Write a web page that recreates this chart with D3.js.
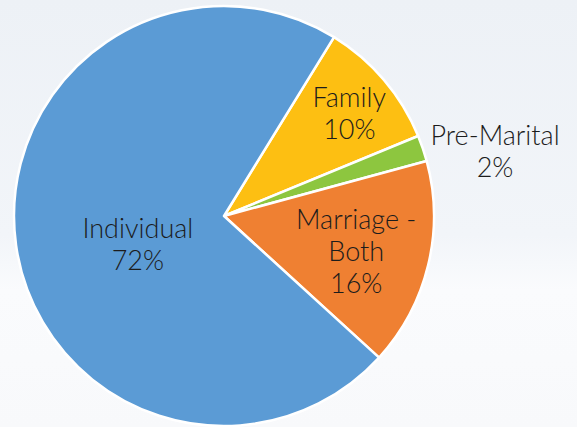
<!DOCTYPE html>
<html>
<head>
<meta charset="utf-8">
<script src="https://cdn.jsdelivr.net/npm/d3@7"></script>
<style>
  html, body { margin: 0; padding: 0; overflow: hidden; }
  body { width: 577px; height: 427px; }
  .label { font-family: Lato, "Open Sans", sans-serif; font-weight: 300; font-size: 27px; fill: #1c1c1c; }
</style>
</head>
<body>
<div id="chart"></div>
<script>
// Data
const categories = ["Family", "Pre-Marital", "Marriage - Both", "Individual"];
const values = [10, 2, 16, 72];
const colors = ["#fdbf12", "#8dc63f", "#ef8032", "#5b9bd5"];

const width = 577, height = 427;
const cx = 224, cy = 216, radius = 210;

const svg = d3.select("#chart")
    .append("svg")
    .attr("width", width)
    .attr("height", height);

// faded background
const defs = svg.append("defs");
const grad = defs.append("linearGradient")
    .attr("id", "bg")
    .attr("x1", 0).attr("y1", 0).attr("x2", 0).attr("y2", 1);
grad.append("stop").attr("offset", "0%").attr("stop-color", "#edf1f6");
grad.append("stop").attr("offset", "55%").attr("stop-color", "#f2f5f9");
grad.append("stop").attr("offset", "68%").attr("stop-color", "#fafbfd");
grad.append("stop").attr("offset", "100%").attr("stop-color", "#f8f9fb");
svg.append("rect").attr("width", width).attr("height", height).attr("fill", "url(#bg)");

const data = categories.map((c, i) => ({ name: c, value: values[i], color: colors[i] }));

// Family begins at ~31.6 deg clockwise from 12 o'clock
const startAngle = 31.6 * Math.PI / 180;
const pie = d3.pie()
    .value(d => d.value)
    .sort(null)
    .startAngle(startAngle)
    .endAngle(startAngle + 2 * Math.PI);

const arc = d3.arc().innerRadius(0).outerRadius(radius);

const g = svg.append("g").attr("transform", `translate(${cx},${cy})`);

const arcs = pie(data);

g.selectAll("path")
    .data(arcs)
    .enter()
    .append("path")
    .attr("d", arc)
    .attr("fill", d => d.data.color)
    .attr("stroke", "#fff")
    .attr("stroke-width", 2.5)
    .attr("stroke-linejoin", "round");

// label distance from centre (Excel "best fit"), plus small nudges
const labelRadius = { "Family": 162, "Pre-Marital": 280, "Marriage - Both": 136, "Individual": 88 };
const labelNudge = { "Family": [2, 2], "Pre-Marital": [6, 25], "Marriage - Both": [0, 3], "Individual": [1, 16] };
const labelLines = {
    "Family": ["Family"],
    "Pre-Marital": ["Pre-Marital"],
    "Marriage - Both": ["Marriage -", "Both"],
    "Individual": ["Individual"]
};
const lineHeight = 32;

const labels = g.selectAll("text.label")
    .data(arcs)
    .enter()
    .append("text")
    .attr("class", "label")
    .attr("text-anchor", "middle")
    .attr("transform", d => {
        const r = labelRadius[d.data.name];
        const [x, y] = d3.arc().innerRadius(r).outerRadius(r).centroid(d);
        const [nx, ny] = labelNudge[d.data.name];
        return `translate(${x + nx},${y + ny})`;
    });

labels.each(function(d) {
    const lines = labelLines[d.data.name].concat([d.data.value + "%"]);
    const t = d3.select(this);
    const y0 = -(lines.length - 1) * lineHeight / 2 + 10;
    lines.forEach((l, i) => {
        t.append("tspan").attr("x", 0).attr("y", y0 + i * lineHeight).text(l);
    });
});
</script>
</body>
</html>
